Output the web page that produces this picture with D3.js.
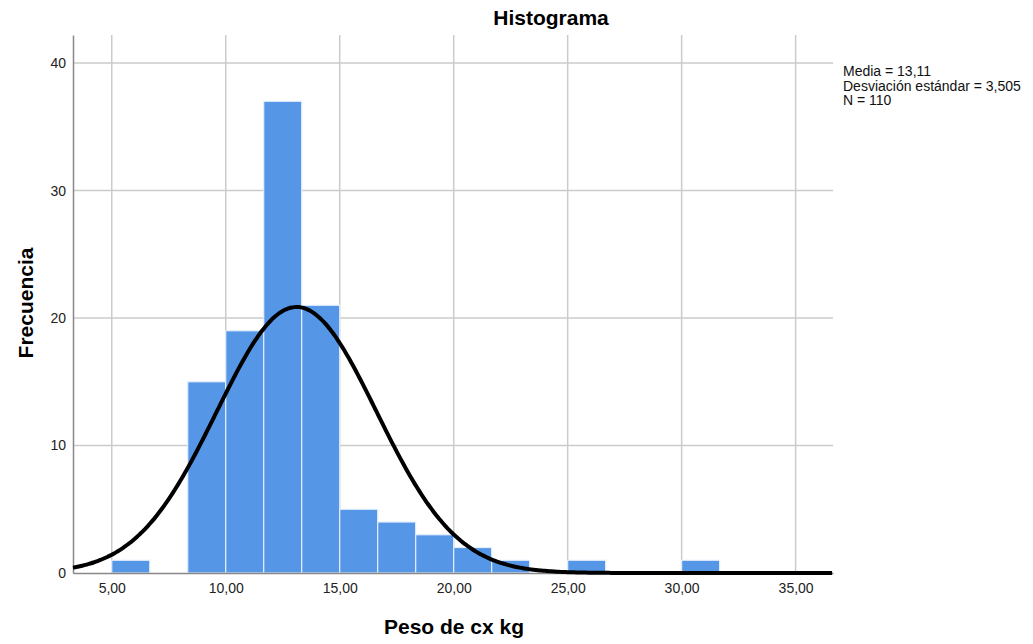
<!DOCTYPE html>
<html>
<head>
<meta charset="utf-8">
<script src="https://cdn.jsdelivr.net/npm/d3@7/dist/d3.min.js"></script>
<style>
  body { margin: 0; background: #fff; }
  svg { font-family: "Liberation Sans", Arial, sans-serif; }
</style>
</head>
<body>
<svg id="chart" width="1033" height="644"></svg>
<script>
// bins (start of each bin, width 5/3) and counts
const binStarts = [5, 8.3333, 10, 11.6667, 13.3333, 15, 16.6667, 18.3333, 20, 21.6667, 25, 30];
const counts    = [1, 15, 19, 37, 21, 5, 4, 3, 2, 1, 1, 1];
const binWidth = 5 / 3;
const xTicks = [5, 10, 15, 20, 25, 30, 35];
const yTicks = [0, 10, 20, 30, 40];
const stats = ["Media = 13,11", "Desviación estándar = 3,505", "N = 110"];
const mean = 13.11, sd = 3.505, n = 110;

const svg = d3.select("#chart");
const plotLeft = 73, plotRight = 833, plotTop = 35, plotBottom = 573;

const x = d3.scaleLinear().domain([3.3, 36.64]).range([plotLeft, plotRight]);
const y = d3.scaleLinear().domain([0, 42.2]).range([plotBottom, plotTop]);

// grid
svg.append("g").selectAll("line").data(yTicks.slice(1)).join("line")
    .attr("x1", plotLeft).attr("x2", plotRight)
    .attr("y1", d => y(d)).attr("y2", d => y(d))
    .attr("stroke", "#cbcbcb").attr("stroke-width", 1.5);
svg.append("g").selectAll("line").data(xTicks).join("line")
    .attr("x1", d => x(d)).attr("x2", d => x(d))
    .attr("y1", plotTop).attr("y2", plotBottom)
    .attr("stroke", "#cbcbcb").attr("stroke-width", 1.5);

// bars
svg.append("g").selectAll("rect").data(binStarts).join("rect")
    .attr("x", d => x(d))
    .attr("width", d => x(d + binWidth) - x(d))
    .attr("y", (d, i) => y(counts[i]))
    .attr("height", (d, i) => y(0) - y(counts[i]))
    .attr("fill", "#5596e6")
    .attr("stroke", "#e4eefb").attr("stroke-width", 1.2);

// axes
const axisX = svg.append("g")
    .attr("transform", `translate(0,${plotBottom})`)
    .call(d3.axisBottom(x).tickValues(xTicks).tickSize(0).tickPadding(10)
        .tickFormat(d => d3.format(".2f")(d).replace(".", ",")));
axisX.select(".domain").attr("stroke", "#888").attr("stroke-width", 1.5);
axisX.selectAll("text").attr("font-size", 14).attr("fill", "#222")
    .attr("font-family", "Liberation Sans, Arial, sans-serif");

const axisY = svg.append("g")
    .attr("transform", `translate(${plotLeft},0)`)
    .call(d3.axisLeft(y).tickValues(yTicks).tickSize(0).tickPadding(7));
axisY.select(".domain").attr("stroke", "#888").attr("stroke-width", 1.5);
axisY.selectAll("text").attr("font-size", 14).attr("fill", "#222")
    .attr("font-family", "Liberation Sans, Arial, sans-serif");

// normal curve
const pdf = v => n * binWidth * Math.exp(-0.5 * ((v - mean) / sd) ** 2) / (sd * Math.sqrt(2 * Math.PI));
const curvePts = d3.range(x.domain()[0], x.domain()[1] + 0.001, 0.1);
svg.append("path")
    .datum(curvePts)
    .attr("fill", "none")
    .attr("stroke", "#000")
    .attr("stroke-width", 4)
    .attr("stroke-linejoin", "round")
    .attr("d", d3.line().x(d => x(d)).y(d => y(pdf(d))).curve(d3.curveBasis));

// titles
svg.append("text").attr("x", 551).attr("y", 25).attr("text-anchor", "middle")
    .attr("font-size", 21).attr("font-weight", "bold").text("Histograma");
svg.append("text").attr("x", 454).attr("y", 634).attr("text-anchor", "middle")
    .attr("font-size", 21).attr("font-weight", "bold").text("Peso de cx kg");
svg.append("text").attr("transform", "translate(33,303) rotate(-90)").attr("text-anchor", "middle")
    .attr("font-size", 21).attr("font-weight", "bold").text("Frecuencia");

// stats
svg.append("g").selectAll("text").data(stats).join("text")
    .attr("x", 843).attr("y", (d, i) => 76 + i * 14.5)
    .attr("font-size", 14).attr("fill", "#111").text(d => d);
</script>
</body>
</html>
